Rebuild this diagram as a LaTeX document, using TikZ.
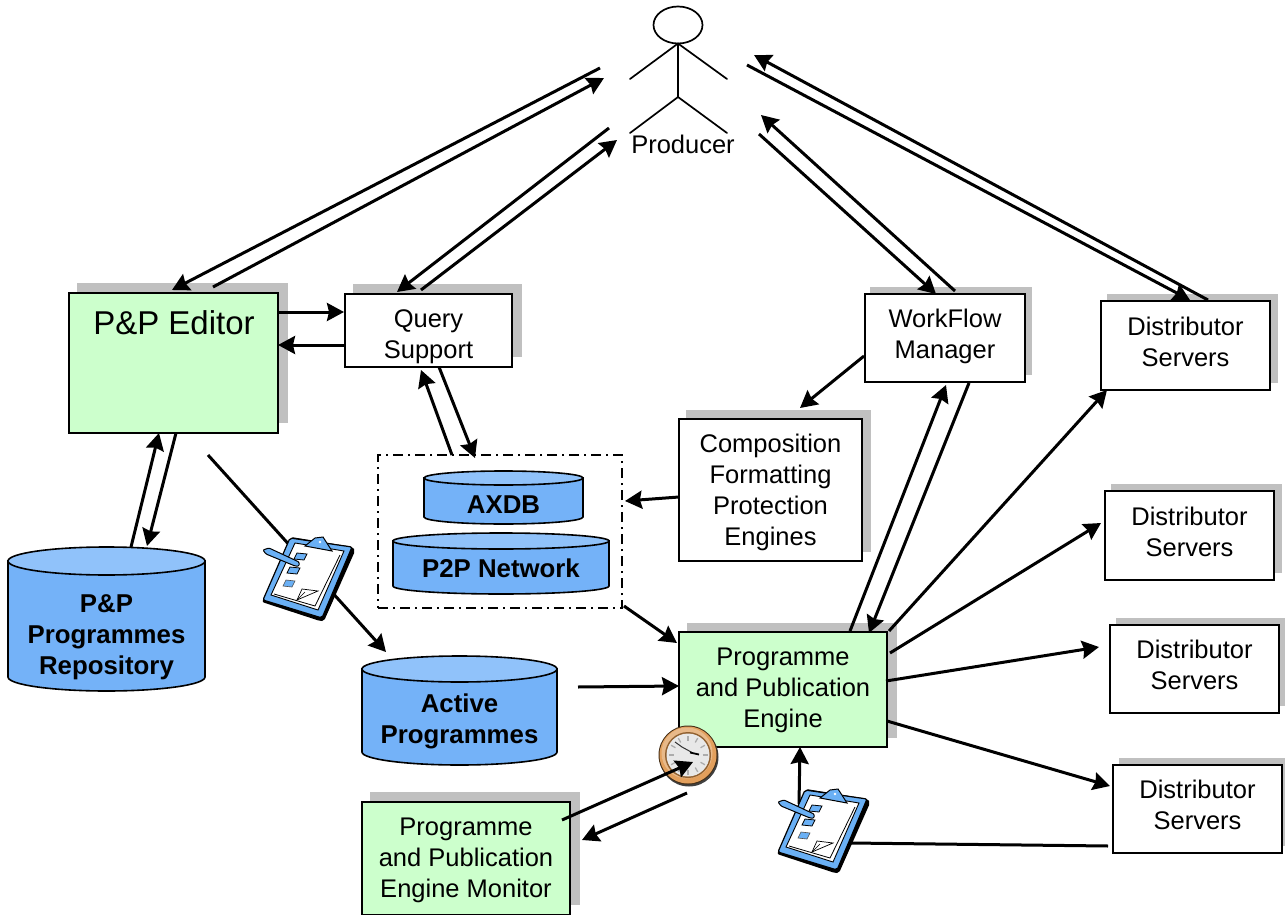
\documentclass[tikz,border=0pt]{standalone}
\usepackage{fontspec}
\setmainfont{Liberation Sans}
\usetikzlibrary{arrows.meta,shapes.geometric}
\definecolor{grn}{HTML}{CCFFCC}
\definecolor{shd}{HTML}{C0C0C0}
\definecolor{cylbody}{HTML}{74B2F8}
\definecolor{cyltop}{HTML}{90C2FA}
\definecolor{clipblue}{HTML}{6AB0F5}
\tikzset{
  boxnode/.style={draw=black,line width=2pt,inner sep=0pt,outer sep=0pt},
  boxtext/.style={inner sep=0pt,outer sep=0pt,align=center,font=\fontsize{25.5}{31}\selectfont},
  cyltext/.style={inner sep=0pt,outer sep=0pt,align=center,font=\fontsize{25.8}{31}\selectfont\bfseries},
  arr/.style={line width=3pt,-{Stealth[length=17pt,width=18pt,inset=2pt]}},
  plainline/.style={line width=3pt},
  stick/.style={line width=1.7pt,line cap=round},
  cylline/.style={draw=black,line width=1.6pt},
  ghost/.style={inner sep=0pt,outer sep=0pt,minimum size=1pt},
  pics/clipboard/.style={code={
    \fill[black,rounded corners=2pt] (-45,25) -- (-16,-40) -- (46,-30) -- (48,-26) -- (17,44) -- (13,44) -- cycle;
    \filldraw[draw=black,fill=clipblue,line width=1.2pt,rounded corners=2pt] (-17,-39) -- (45,-30) -- (15,41) -- (-44,23) -- cycle;
    \filldraw[draw=black,fill=white,line width=.9pt] (-12,-34) -- (37,-26) -- (11,33) -- (-36,18) -- cycle;
    \draw[black,line width=.8pt] (33,-22) -- (8,29) -- (-33,17);
    \filldraw[draw=black,fill=clipblue,line width=1pt] (-2,-31) -- (8,-39) -- (16,-40) -- (25,-26) -- cycle;
    \fill[white] (13,-35) circle[radius=1.4];
    \filldraw[draw=black,fill=clipblue,line width=.8pt] (-10,-24) -- (0,-23) -- (-3,-17) -- (-13,-18) -- cycle;
    \filldraw[draw=black,fill=clipblue,line width=.8pt] (-17,-10) -- (-7,-9) -- (-10,-3) -- (-20,-4) -- cycle;
    \filldraw[draw=black!70,fill=clipblue,line width=.6pt] (-21,3) -- (-12,4) -- (-15,10) -- (-24,9) -- cycle;
    \draw[black,line width=.7pt] (-10,23) -- (-5,12) -- (11,14) -- (-10,23);
    \draw[black,line width=.5pt] (-10,23) -- (-2,15);
    \filldraw[draw=black,fill=clipblue,line width=1pt,rounded corners=1pt] (-44,-27) -- (-38,-29) -- (-8,-15) -- (-8,-11) -- (-12,-11) -- (-41,-23) -- cycle;
  }}
}
% name, x1, y1, x2, y2, fill, text, text dy, shadow size
\newcommand{\shadowbox}[9]{%
  \fill[shd] (#2+#9-2,#3-#9) rectangle (#4+#9,#5-#9);
  \pgfmathsetmacro{\bw}{#4-#2}\pgfmathsetmacro{\bh}{#5-#3}%
  \pgfmathsetmacro{\cx}{(#2+#4)/2}\pgfmathsetmacro{\cy}{(#3+#5)/2}%
  \node[boxnode,fill=#6,minimum width=\bw pt,minimum height=\bh pt] (#1) at (\cx,\cy) {};
  \node[boxtext] (#1text) at (\cx,\cy+#8) {#7};
}
% name, x1, y1, x2, y2, ellipse ry, text, text y
\newcommand{\cylinder}[8]{%
  \pgfmathsetmacro{\bw}{#4-#2}\pgfmathsetmacro{\bh}{#5-#3}%
  \pgfmathsetmacro{\cx}{(#2+#4)/2}\pgfmathsetmacro{\cy}{(#3+#5)/2}%
  \pgfmathsetmacro{\rx}{(#4-#2)/2}%
  \filldraw[cylline,fill=cylbody] (#2,#3+#6) -- (#2,#5-#6) arc[x radius=\rx,y radius=#6,start angle=180,end angle=0] -- (#4,#3+#6) -- cycle;
  \filldraw[cylline,fill=cyltop] (\cx,#3+#6) ellipse[x radius=\rx,y radius=#6];
  \node[ghost,minimum width=\bw pt,minimum height=\bh pt] (#1) at (\cx,\cy) {};
  \node[cyltext] (#1text) at (\cx,#8) {#7};
}
\begin{document}
\begin{tikzpicture}[x=1pt,y=-1pt]
\useasboundingbox (0,0) rectangle (1285,915);

% boxes
\shadowbox{editor}{69}{293}{278}{433}{grn}{}{0}{10}
\node[inner sep=0pt,font=\fontsize{33}{38}\selectfont] (editorlabel) at (174,323) {P\&P Editor};
\shadowbox{query}{345}{294}{512}{367}{white}{Query\\Support}{6}{10}
\shadowbox{workflow}{865}{294}{1025}{382}{white}{WorkFlow\\Manager}{-2}{7}
\shadowbox{distA}{1101}{301}{1270}{390}{white}{Distributor\\Servers}{-4}{7.5}
\shadowbox{distB}{1105}{491}{1274}{580}{white}{Distributor\\Servers}{-4}{7.5}
\shadowbox{distC}{1110}{625}{1279}{713}{white}{Distributor\\Servers}{-4}{7.5}
\shadowbox{distD}{1113}{765}{1282}{853}{white}{Distributor\\Servers}{-4}{7.5}
\shadowbox{comp}{679}{419}{862}{561}{white}{Composition\\Formatting\\Protection\\Engines}{2.5}{9}
\shadowbox{engine}{679}{632}{887}{747}{grn}{Programme\\and Publication\\Engine}{1}{9.5}
\shadowbox{monitor}{362}{802}{570}{915}{grn}{Programme\\and Publication\\Engine Monitor}{1.5}{10}

% cylinders
\cylinder{repo}{8}{547}{205}{691}{14}{P\&P\\Programmes\\Repository}{637.5}
\cylinder{active}{362}{656}{557}{765}{13}{Active\\Programmes}{721}
\cylinder{axdb}{424}{471}{583}{524}{7}{AXDB}{505}
\cylinder{ptwop}{393}{533}{609}{594}{8}{P2P Network}{568}

% dash-dot group
\node[draw=black,line width=1.5pt,dash pattern=on 10pt off 5pt on 2pt off 5pt,inner sep=0pt,outer sep=0pt,minimum width=244pt,minimum height=153pt] (group) at (500,531.5) {};

% producer
\node[draw=black,line width=1.7pt,ellipse,inner sep=0pt,outer sep=0pt,minimum width=49pt,minimum height=37pt] (head) at (678,25) {};
\coordinate (hip) at (678,97);
\coordinate (handL) at (630,79);
\coordinate (handR) at (727,79);
\coordinate (footL) at (630,133);
\coordinate (footR) at (727,133);
\draw[stick] (head.south) -- (hip);
\draw[stick] (head.south) -- (handL);
\draw[stick] (head.south) -- (handR);
\draw[stick] (hip) -- (footL);
\draw[stick] (hip) -- (footR);
\node[inner sep=0pt,font=\fontsize{25.5}{30}\selectfont] (producer) at (683,144) {Producer};

\coordinate (pa) at (600,68);
\coordinate (pb) at (604,78);
\coordinate (pc) at (609,128);
\coordinate (pd) at (617,140);
\coordinate (pe) at (761,115);
\coordinate (pf) at (759,134);
\coordinate (pg) at (754,55);
\coordinate (ph) at (747,65);

% clock
\node[circle,inner sep=0pt,outer sep=0pt,minimum size=60pt] (clock) at (688,755) {};
\fill[black!75] (689,757) circle[radius=29.5];
\fill[black!65!brown] (clock.center) circle[radius=29.5];
\fill[brown!60!orange!75] (clock.center) circle[radius=28.5];
\fill[orange!35!brown!55] (687,753) circle[radius=25.5];
\fill[brown!75!black] (clock.center) circle[radius=23];
\fill[gray!18] (clock.center) circle[radius=21.5];
\foreach \a in {0,30,...,330}{\draw[gray!65,line width=1.3pt] (clock.center) ++(\a:14.5) -- ++(\a:5);}
\draw[black!80,line width=1pt] (675,742) -- (682,747) -- (693,753);
\draw[black,line width=1.8pt] (690,752.5) -- (699,754.5);

% clipboard anchors
\node[ghost] (clipA) at (307,577) {};
\node[ghost] (clipB) at (822,829) {};

% connectors
\draw[arr] (pa) -- ([shift={(103,-3)}]editor.north west);
\draw[arr] ([shift={(144,-6)}]editor.north west) -- (pb);
\draw[arr] (pc) -- ([shift={(52,-2)}]query.north west);
\draw[arr] ([shift={(76,-4)}]query.north west) -- (pd);
\draw[arr] ([shift={(90,-3)}]workflow.north west) -- (pe);
\draw[arr] (pf) -- ([shift={(71,0)}]workflow.north west);
\draw[arr] ([shift={(107,-1)}]distA.north west) -- (pg);
\draw[arr] (ph) -- ([shift={(89,-1)}]distA.north west);
\draw[arr] ([shift={(209,19)}]editor.north west) -- ([shift={(-1,18)}]query.north west);
\draw[arr] ([shift={(-1,51)}]query.north west) -- ([shift={(209,52)}]editor.north west);
\draw[arr] ([shift={(94,73)}]query.north west) -- ([shift={(97,3)}]group.north west);
\draw[arr] ([shift={(74,0)}]group.north west) -- ([shift={(76,76)}]query.north west);
\draw[arr] ([shift={(-1,62)}]workflow.north west) -- ([shift={(121,-11)}]comp.north west);
\draw[arr] ([shift={(0,78)}]comp.north west) -- ([shift={(247,46)}]group.north west);
\draw[arr] ([shift={(246,151)}]group.north west) -- ([shift={(-2,11)}]engine.north west);
\draw[arr] ([shift={(107,140)}]editor.north west) -- ([shift={(139,-1)}]repo.north west);
\draw[arr] ([shift={(123,0)}]repo.north west) -- ([shift={(90,140)}]editor.north west);
\draw[arr] ([shift={(139,162)}]editor.north west) -- ([shift={(24,-4)}]active.north west);
\draw[arr] ([shift={(216,31)}]active.north west) -- ([shift={(0,54)}]engine.north west);
\draw[arr] ([shift={(171,-1)}]engine.north west) -- ([shift={(81,91)}]workflow.north west);
\draw[arr] ([shift={(104,89)}]workflow.north west) -- ([shift={(190,1)}]engine.north west);
\draw[arr] ([shift={(210,-1)}]engine.north west) -- ([shift={(6,89)}]distA.north west);
\draw[arr] ([shift={(211,21)}]engine.north west) -- ([shift={(-4,32)}]distB.north west);
\draw[arr] ([shift={(207,49)}]engine.north west) -- ([shift={(-11,22)}]distC.north west);
\draw[arr] ([shift={(208,89)}]engine.north west) -- ([shift={(-3,21)}]distD.north west);
\draw[plainline] ([shift={(-5,81)}]distD.north west) -- ([shift={(28,14)}]clipB.center);
\draw[arr] ([shift={(-23,-25)}]clipB.center) -- ([shift={(121,115)}]engine.north west);
\draw[arr] ([shift={(200,18)}]monitor.north west) -- ([shift={(5,7)}]clock.center);
\draw[arr] ([shift={(-1,38)}]clock.center) -- ([shift={(220,38)}]monitor.north west);

% clipboards
\pic at (clipA) {clipboard};
\pic at (clipB) {clipboard};
\end{tikzpicture}
\end{document}
